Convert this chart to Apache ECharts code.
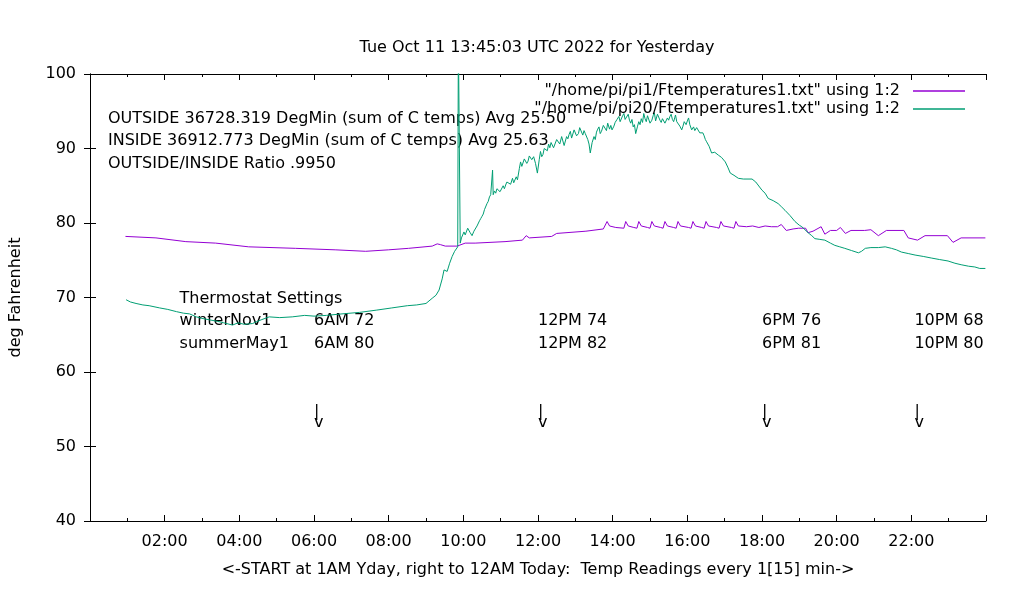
<!DOCTYPE html>
<html>
<head>
<meta charset="utf-8">
<script src="https://cdn.jsdelivr.net/npm/echarts@6/dist/echarts.min.js"></script>
<style>
  html, body { margin: 0; background: #fff; }
  #chart { width: 1020px; height: 600px; }
</style>
</head>
<body>
<div id="chart"></div>
<script>
// pi1 readings (purple line)
var pi1Times = ['00:57','01:46','02:34','03:22','04:15','05:30','06:34','07:23','08:00','08:32',
  '09:10','09:18','09:23','09:31','09:50','10:03','10:19','11:07','11:35','11:41','11:46','12:22',
  '12:30','13:17','13:45','13:48','13:51','13:55','14:05','14:18','14:21','14:25','14:34','14:39',
  '14:42','14:46','14:56','15:00','15:03','15:07','15:17','15:21','15:24','15:28','15:38','15:42',
  '15:45','15:49','16:02','16:06','16:09','16:13','16:23','16:27','16:30','16:34','16:47','16:51',
  '16:54','16:58','17:11','17:15','17:18','17:22','17:35','17:45','17:55','18:05','18:15','18:25',
  '18:31','18:39','18:50','18:59','19:10','19:14','19:22','19:35','19:41','19:50','20:00','20:06',
  '20:14','20:23','20:45','20:55','21:07','21:20','21:48','21:55','22:10','22:22','22:58','23:07',
  '23:20','23:59'];
var pi1Temps = [78.2,78.0,77.5,77.3,76.8,76.6,76.4,76.2,76.4,76.6,
  76.9,77.2,77.1,76.9,76.9,77.3,77.3,77.5,77.7,78.3,78.0,78.2,
  78.6,78.9,79.2,79.3,80.2,79.6,79.4,79.3,80.2,79.6,79.4,79.3,
  80.2,79.6,79.4,79.3,80.2,79.6,79.4,79.3,80.2,79.6,79.4,79.3,
  80.2,79.6,79.4,79.3,80.2,79.6,79.4,79.3,80.2,79.6,79.4,79.3,
  80.2,79.6,79.4,79.3,80.2,79.6,79.5,79.6,79.4,79.6,79.5,79.5,
  79.8,79.0,79.2,79.3,79.3,78.7,78.9,79.5,78.5,79.0,79.0,79.4,
  78.6,79.0,79.0,79.1,78.3,79.0,79.0,78.0,77.7,78.3,78.3,77.4,
  78.0,78.0];

// pi20 readings (green line), ten per row in both arrays
var pi20Times = [
  '00:58','01:05','01:14','01:25','01:35','01:52','02:05','02:19','02:30','02:40',
  '02:51','03:00','03:12','03:25','03:35','03:49','03:58','04:08','04:21','04:35',
  '04:48','05:05','05:25','05:45','06:00','06:20','06:45','07:13','07:40','08:05',
  '08:30','08:45','09:00','09:10','09:16','09:21','09:26','09:29','09:34','09:38',
  '09:42','09:46','09:51','09:52','09:53','09:54','09:55','09:57','10:01','10:03',
  '10:05','10:07','10:09','10:11','10:14','10:17','10:20','10:22','10:24','10:26',
  '10:28','10:30','10:32','10:34','10:36','10:38','10:40','10:42','10:44','10:46',
  '10:47','10:48','10:50','10:52','10:54','10:57','10:59','11:02','11:04','11:06',
  '11:08','11:10','11:13','11:16','11:19','11:21','11:23','11:25','11:27','11:30',
  '11:32','11:34','11:36','11:38','11:40','11:42','11:44','11:46','11:48','11:50',
  '11:53','11:56','11:59','12:02','12:04','12:06','12:08','12:10','12:12','12:15',
  '12:17','12:19','12:21','12:23','12:25','12:27','12:30','12:33','12:35','12:36',
  '12:38','12:40','12:42','12:44','12:46','12:48','12:50','12:52','12:54','12:56',
  '12:58','13:00','13:02','13:05','13:07','13:09','13:12','13:14','13:16','13:18',
  '13:20','13:22','13:24','13:27','13:30','13:32','13:34','13:36','13:38','13:40',
  '13:42','13:45','13:48','13:50','13:52','13:55','13:57','13:59','14:02','14:04',
  '14:07','14:10','14:12','14:14','14:16','14:18','14:20','14:22','14:25','14:27',
  '14:29','14:31','14:33','14:35','14:37','14:40','14:42','14:44','14:46','14:48',
  '14:50','14:52','14:54','14:56','14:58','15:00','15:03','15:05','15:07','15:09',
  '15:10','15:12','15:14','15:16','15:18','15:20','15:22','15:24','15:26','15:28',
  '15:30','15:32','15:34','15:36','15:38','15:40','15:41','15:43','15:45','15:48',
  '15:51','15:53','15:55','15:58','16:00','16:02','16:04','16:07','16:10','16:12',
  '16:15','16:17','16:20','16:23','16:25','16:27','16:29','16:31','16:35','16:39',
  '16:44','16:50','16:55','17:01','17:05','17:09','17:15','17:22','17:30','17:44',
  '17:50','18:00','18:05','18:10','18:18','18:26','18:31','18:37','18:45','18:53',
  '19:00','19:04','19:09','19:14','19:20','19:25','19:33','19:41','19:50','19:57',
  '20:05','20:13','20:24','20:35','20:40','20:46','20:55','21:07','21:18','21:28',
  '21:36','21:44','21:55','22:06','22:20','22:32','22:45','22:59','23:10','23:20',
  '23:32','23:42','23:50','23:59'];
var pi20Temps = [
  69.7,69.4,69.2,69.0,68.9,68.6,68.4,68.1,67.9,67.8,
  67.4,67.2,67.0,66.8,66.6,66.3,66.6,66.4,66.5,67.0,
  67.4,67.3,67.4,67.6,67.5,67.6,67.8,68.0,68.3,68.6,
  68.9,69.0,69.2,69.9,70.3,71.0,72.5,73.7,73.5,74.6,
  75.5,76.2,76.8,105,105,105,77.3,78.0,78.8,78.4,
  78.5,79.3,79.1,78.7,78.3,78.9,79.1,79.6,79.8,80.3,
  80.6,80.9,81.2,81.8,82.0,82.6,82.9,83.5,83.8,83.9,
  87.1,83.8,84.3,84.0,84.6,84.7,84.2,84.4,85.0,84.6,
  85.1,85.5,85.6,85.2,86.0,85.4,85.6,86.2,85.8,87.3,
  88.2,87.6,87.8,88.6,88.7,88.0,88.3,89.0,89.1,88.5,
  88.9,88.0,86.7,88.5,89.6,88.9,89.2,90.0,90.2,89.7,
  90.6,90.1,90.8,90.9,90.1,90.2,91.2,91.4,90.6,90.8,
  91.6,91.5,90.4,90.5,91.6,91.3,91.9,92.3,91.4,91.6,
  92.5,92.4,91.7,92.0,92.8,92.6,91.8,92.4,92.0,91.8,
  91.2,90.6,89.4,90.8,91.6,91.2,92.2,92.6,92.9,92.0,
  92.3,93.1,92.9,92.4,93.4,92.6,93.1,92.5,93.0,93.5,
  93.9,94.3,93.6,93.8,94.4,94.7,93.9,94.1,94.6,93.8,
  93.4,93.9,92.9,93.2,92.0,93.0,93.6,93.2,94.0,93.5,
  94.7,94.0,93.6,94.4,94.3,93.4,93.8,94.4,94.8,93.7,
  93.9,94.6,94.5,93.8,93.5,94.0,94.2,93.4,93.3,94.1,
  93.8,94.3,94.6,93.9,93.6,94.2,94.5,93.6,93.7,93.0,
  92.5,93.0,93.6,93.2,93.7,94.1,93.2,92.5,92.9,92.4,
  92.8,92.6,92.1,92.0,92.1,91.7,91.2,90.9,90.3,89.4,
  89.5,89.1,88.8,88.2,87.5,86.7,86.4,86.0,85.9,85.9,
  85.5,84.4,84.0,83.3,83.0,82.6,82.2,81.7,81.0,80.2,
  79.7,79.5,79.1,78.7,78.3,77.9,77.8,77.7,77.3,77.0,
  76.8,76.6,76.3,76.0,76.2,76.6,76.7,76.7,76.8,76.6,
  76.4,76.1,75.9,75.7,75.5,75.3,75.1,74.9,74.6,74.4,
  74.2,74.1,73.9,73.9];

var seriesNames = ['"/home/pi/pi1/Ftemperatures1.txt" using 1:2',
                   '"/home/pi/pi20/Ftemperatures1.txt" using 1:2'];

var statLines = ['OUTSIDE 36728.319 DegMin (sum of C temps) Avg 25.50',
                 'INSIDE 36912.773 DegMin (sum of C temps) Avg 25.63',
                 'OUTSIDE/INSIDE Ratio .9950'];

// thermostat settings table
var thermoTitle = 'Thermostat Settings';
var thermoSeasons = ['winterNov1', 'summerMay1'];
var thermoTimes = ['06:00', '12:00', '18:00', '22:05'];
var winterLabels = ['6AM 72', '12PM 74', '6PM 76', '10PM 68'];
var summerLabels = ['6AM 80', '12PM 82', '6PM 81', '10PM 80'];

var FONT = '16px "DejaVu Sans"';

function toMin(s) {
  var p = s.split(':');
  return +p[0] * 60 + +p[1];
}
function pairs(times, vals) {
  return times.map(function (t, i) { return [toMin(t), vals[i]]; });
}
function pad(n) { return (n < 10 ? '0' : '') + n; }

var chart = echarts.init(document.getElementById('chart'), null, { renderer: 'canvas' });

var xBase = {
  type: 'value', min: 0, max: 1440, interval: 120,
  axisLine: { show: true, onZero: false, lineStyle: { color: '#000', width: 1 } },
  axisTick: { show: true, inside: true, length: 6, lineStyle: { color: '#000' } },
  minorTick: { show: true, splitNumber: 2, length: 3, lineStyle: { color: '#000' } },
  splitLine: { show: false }
};
var yBase = {
  type: 'value', min: 40, max: 100, interval: 10,
  axisLine: { show: true, lineStyle: { color: '#000', width: 1 } },
  axisTick: { show: true, inside: true, length: 6, lineStyle: { color: '#000' } },
  splitLine: { show: false }
};

chart.setOption({
  animation: false,
  backgroundColor: '#fff',
  textStyle: { fontFamily: 'DejaVu Sans' },
  title: {
    text: 'Tue Oct 11 13:45:03 UTC 2022 for Yesterday',
    left: 532, top: 35, textAlign: 'center',
    textStyle: { fontSize: 16, fontWeight: 'normal', color: '#000' }
  },
  legend: {
    orient: 'vertical', right: 50, top: 78, align: 'right',
    itemWidth: 52, itemHeight: 1.5, itemGap: 2, icon: 'rect',
    textStyle: { fontSize: 16, color: '#000', padding: [0, 8, 0, 0] },
    data: seriesNames
  },
  grid: { left: 90, right: 34, top: 74, bottom: 79 },
  xAxis: [
    Object.assign({}, xBase, {
      position: 'bottom',
      name: '<-START at 1AM Yday, right to 12AM Today:  Temp Readings every 1[15] min->',
      nameLocation: 'middle', nameGap: 41,
      nameTextStyle: { fontSize: 16, color: '#000' },
      axisLabel: {
        fontSize: 16, color: '#000', margin: 13,
        showMinLabel: false, showMaxLabel: false,
        formatter: function (v) { return pad(v / 60) + ':00'; }
      }
    }),
    Object.assign({}, xBase, { position: 'top', axisLabel: { show: false } })
  ],
  yAxis: [
    Object.assign({}, yBase, {
      position: 'left',
      name: 'deg Fahrenheit', nameLocation: 'middle', nameGap: 66, nameRotate: 90,
      nameTextStyle: { fontSize: 16, color: '#000' },
      axisLabel: { fontSize: 16, color: '#000', margin: 14 }
    }),
    Object.assign({}, yBase, { position: 'right', axisLabel: { show: false } })
  ],
  series: [
    {
      name: seriesNames[0], type: 'line', showSymbol: false, symbol: 'none',
      color: '#9400d3', lineStyle: { width: 1, color: '#9400d3' },
      data: pairs(pi1Times, pi1Temps)
    },
    {
      name: seriesNames[1], type: 'line', showSymbol: false, symbol: 'none',
      color: '#009e73', lineStyle: { width: 1, color: '#009e73' },
      data: pairs(pi20Times, pi20Temps)
    }
  ]
});

// text labels placed in data coordinates, like gnuplot "set label ... at"
function at(time, val) {
  return chart.convertToPixel({ xAxisIndex: 0, yAxisIndex: 0 }, [toMin(time), val]);
}
function label(txt, p) {
  return {
    type: 'text', x: p[0], y: p[1], silent: true,
    style: { text: txt, font: FONT, fill: '#000', textAlign: 'left', textVerticalAlign: 'middle' }
  };
}

var g = [];
statLines.forEach(function (s, i) {
  g.push(label(s, [108, 118.5 + i * 22.5]));
});
g.push(label(thermoTitle, at('02:24', 69.85)));
g.push(label(thermoSeasons[0], at('02:24', 66.8)));
g.push(label(thermoSeasons[1], at('02:24', 63.8)));
thermoTimes.forEach(function (t, i) {
  g.push(label(winterLabels[i], at(t, 66.8)));
  g.push(label(summerLabels[i], at(t, 63.8)));
  g.push(label('|', at(t, 54.7)));
  g.push(label('v', at(t, 53.2)));
});
chart.setOption({ graphic: g });
</script>
</body>
</html>
